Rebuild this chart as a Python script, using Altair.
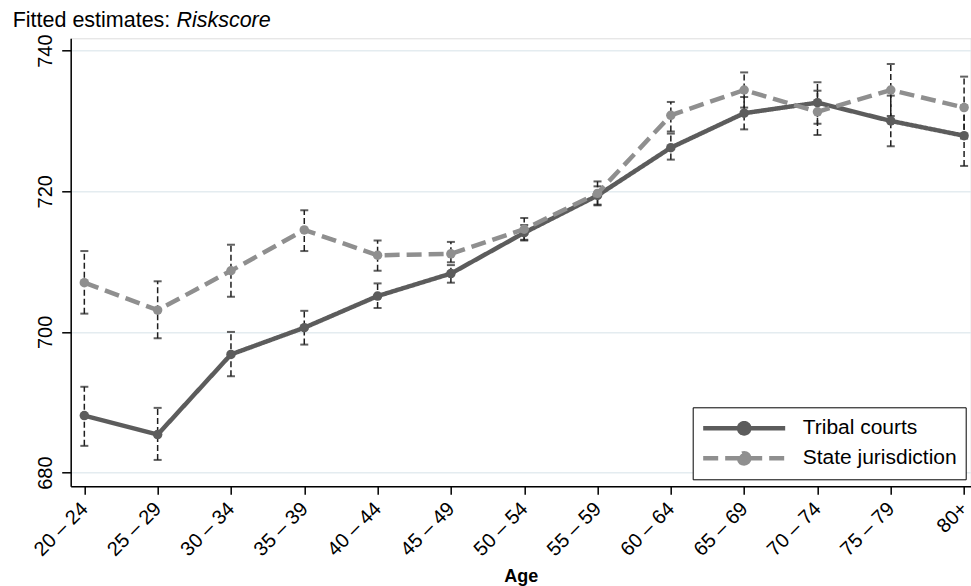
import altair as alt
import pandas as pd

ages = ["20 – 24", "25 – 29", "30 – 34", "35 – 39", "40 – 44", "45 – 49", "50 – 54",
        "55 – 59", "60 – 64", "65 – 69", "70 – 74", "75 – 79", "80+"]

tribal = [688.1, 685.4, 696.8, 700.6, 705.1, 708.3, 714.1, 719.4, 726.2, 731.1, 732.6, 730.0, 727.9]
tribal_lo = [683.8, 681.8, 693.7, 698.2, 703.4, 707.0, 713.1, 718.1, 724.5, 728.8, 729.6, 726.4, 723.6]
tribal_hi = [692.2, 689.2, 700.0, 703.0, 706.9, 709.5, 715.2, 720.7, 728.2, 733.4, 734.3, 733.6, 732.2]

state = [707.0, 703.1, 708.7, 714.5, 710.9, 711.1, 714.6, 719.7, 730.8, 734.4, 731.3, 734.4, 731.9]
state_lo = [702.6, 699.1, 705.0, 711.5, 708.7, 709.9, 713.0, 718.0, 728.5, 731.9, 728.0, 730.7, 727.5]
state_hi = [711.5, 707.2, 712.4, 717.3, 713.0, 712.8, 716.2, 721.4, 732.7, 736.9, 735.5, 738.1, 736.3]

series_names = ["Tribal courts", "State jurisdiction"]
series_colors = ["#5c5c5c", "#8f8f8f"]
y_ticks = [680, 700, 720, 740]

rows = []
for name, vals, lo, hi in [(series_names[0], tribal, tribal_lo, tribal_hi),
                           (series_names[1], state, state_lo, state_hi)]:
    for i, (v, l, h) in enumerate(zip(vals, lo, hi)):
        rows.append({"idx": i, "age": ages[i], "series": name, "value": v, "lo": l, "hi": h})
df = pd.DataFrame(rows)

FONT = "Liberation Sans"
label_expr = "[" + ",".join("'" + a + "'" for a in ages) + "][datum.value]"

xscale = alt.Scale(domain=[-0.186, 12.09], nice=False, zero=False)
yscale = alt.Scale(domain=[678.05, 741.75], nice=False, zero=False)

xaxis = alt.Axis(values=list(range(len(ages))), labelExpr=label_expr, title="Age",
                 labelAngle=-45, labelAlign="right", labelBaseline="middle",
                 labelFontSize=20, labelFont=FONT, labelColor="black", labelPadding=11,
                 tickSize=8, tickColor="black", tickWidth=1.5, domainColor="black",
                 domainWidth=1.5, grid=False, titleFont=FONT, titleFontSize=18,
                 titleFontWeight="bold", titleColor="black", titleY=95,
                 titleBaseline="alphabetic", labelOverlap=False, labelFlush=False)
yaxis = alt.Axis(values=y_ticks, title=None, labelAngle=-90, labelAlign="center",
                 labelBaseline="alphabetic", labelFontSize=20, labelFont=FONT,
                 labelColor="black", labelPadding=10, tickSize=9, tickColor="black",
                 tickWidth=1.5, domainColor="black", domainWidth=1.5, grid=True,
                 gridColor="#e4ecf0", gridWidth=1.5, labelFlush=False, labelOverlap=False)

X = alt.X("idx:Q", scale=xscale, axis=xaxis)

base = alt.Chart(df)

rules = base.mark_rule(color="#1e1e1e", strokeWidth=1.5, strokeDash=[6, 3]).encode(
    x=X, y=alt.Y("lo:Q", scale=yscale, axis=yaxis), y2="hi:Q")
caps_lo = base.mark_tick(orient="horizontal", size=8, thickness=2, color="#1e1e1e").encode(
    x=X, y=alt.Y("lo:Q", scale=yscale, axis=yaxis))
caps_hi = base.mark_tick(orient="horizontal", size=8, thickness=2, color="#1e1e1e").encode(
    x=X, y=alt.Y("hi:Q", scale=yscale, axis=yaxis))

r = 0.125
legend_path = ("M-1,0L1,0M{r},0A{r},{r},0,1,1,-{r},0A{r},{r},0,1,1,{r},0Z").format(r=r)
legend = alt.Legend(title=None, orient="none", legendX=622, legendY=369,
                    symbolType=legend_path, symbolSize=6724, symbolStrokeWidth=4.5,
                    clipHeight=26, rowPadding=4, padding=8, labelFontSize=21,
                    labelFont=FONT, labelColor="black", labelOffset=15,
                    strokeColor="black", fillColor="white")

color_enc = alt.Color("series:N", scale=alt.Scale(domain=series_names, range=series_colors),
                      legend=legend)
dash_enc = alt.StrokeDash("series:N", scale=alt.Scale(domain=series_names, range=[[1, 0], [15, 7]]),
                          legend=legend)

layers = [rules, caps_lo, caps_hi]
for name, col in zip(series_names, series_colors):
    sub = base.transform_filter(alt.datum.series == name)
    layers.append(sub.mark_line(strokeWidth=4.5).encode(
        x=X, y=alt.Y("value:Q", scale=yscale, axis=yaxis), color=color_enc, strokeDash=dash_enc))
    layers.append(sub.mark_circle(size=90, opacity=1).encode(
        x=X, y=alt.Y("value:Q", scale=yscale, axis=yaxis), color=color_enc))

title_data = alt.Data(values=[{"t": 1}])
t1 = alt.Chart(title_data).mark_text(align="left", baseline="alphabetic", font=FONT,
                                     fontSize=21.5, color="black").encode(
    x=alt.value(-58), y=alt.value(-11.6), text=alt.value("Fitted estimates:"))
t2 = alt.Chart(title_data).mark_text(align="left", baseline="alphabetic", font=FONT,
                                     fontSize=21.5, fontStyle="italic", color="black").encode(
    x=alt.value(105.7), y=alt.value(-11.6), text=alt.value("Riskscore"))
layers += [t1, t2]

chart = alt.layer(*layers).properties(
    width=900, height=448,
    autosize=alt.AutoSizeParams(type="none"),
    padding={"left": 70.7, "top": 38.3, "right": 0, "bottom": 99.7},
).configure_view(strokeWidth=0).configure(background="white")

chart.save("out.html", embed_options={"renderer": "svg", "actions": False})
